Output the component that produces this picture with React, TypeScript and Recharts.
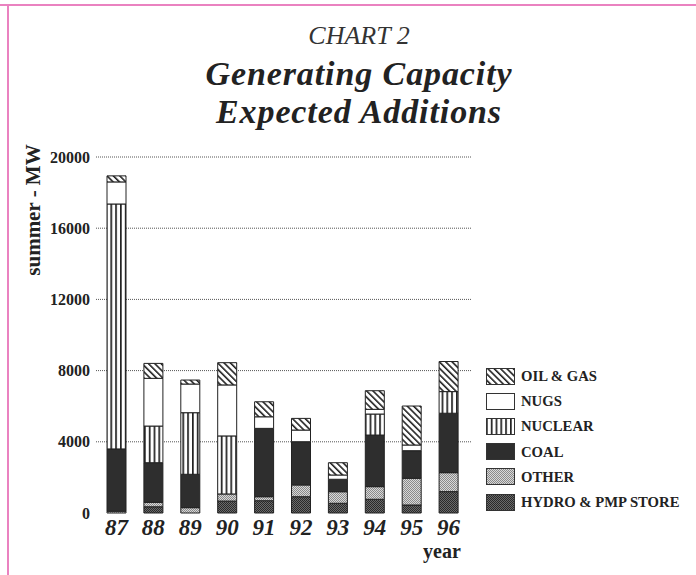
import { Bar, BarChart, CartesianGrid, XAxis, YAxis } from 'recharts'

const years = ['87', '88', '89', '90', '91', '92', '93', '94', '95', '96']
const hydro = [0, 350, 0, 670, 690, 915, 545, 770, 450, 1200]
const other = [100, 250, 300, 400, 225, 660, 650, 710, 1500, 1065]
const coal = [3500, 2225, 1875, 0, 3840, 2430, 700, 2900, 1550, 3340]
const nuclear = [13760, 2060, 3460, 3260, 0, 0, 0, 1180, 0, 1215]
const nugs = [1240, 2680, 1610, 2865, 650, 655, 240, 265, 320, 0]
const oilGas = [340, 840, 225, 1250, 845, 655, 690, 1045, 2190, 1690]
const yTicks = [0, 4000, 8000, 12000, 16000, 20000]

// bottom of the stack first
const series = [
  { key: 'hydro', name: 'HYDRO & PMP STORE', fill: 'url(#hydroFill)' },
  { key: 'other', name: 'OTHER', fill: 'url(#otherFill)' },
  { key: 'coal', name: 'COAL', fill: '#2e2e2e' },
  { key: 'nuclear', name: 'NUCLEAR', fill: 'url(#nuclearFill)' },
  { key: 'nugs', name: 'NUGS', fill: '#ffffff' },
  { key: 'oilGas', name: 'OIL & GAS', fill: 'url(#oilGasFill)' },
]

const chartData = years.map((year, i) => ({
  year,
  hydro: hydro[i],
  other: other[i],
  coal: coal[i],
  nuclear: nuclear[i],
  nugs: nugs[i],
  oilGas: oilGas[i],
}))

const serif = "'Liberation Serif', 'Times New Roman', serif"
const ink = '#222'

function Patterns() {
  return (
    <svg width={0} height={0} style={{ position: 'absolute' }}>
      <defs>
        <pattern id="oilGasFill" patternUnits="userSpaceOnUse" width={4.5} height={4.5} patternTransform="rotate(-45)">
          <rect width={4.5} height={4.5} fill="#fff" />
          <rect width={1.6} height={4.5} fill="#222" />
        </pattern>
        <pattern id="nuclearFill" patternUnits="userSpaceOnUse" width={4.8} height={4}>
          <rect width={4.8} height={4} fill="#fff" />
          <rect width={1.7} height={4} fill="#222" />
        </pattern>
        <pattern id="otherFill" patternUnits="userSpaceOnUse" width={2} height={2}>
          <rect width={2} height={2} fill="#d8d8d8" />
          <rect width={1} height={1} fill="#8a8a8a" />
          <rect x={1} y={1} width={1} height={1} fill="#8a8a8a" />
        </pattern>
        <pattern id="hydroFill" patternUnits="userSpaceOnUse" width={2} height={2}>
          <rect width={2} height={2} fill="#6a6a6a" />
          <rect width={1} height={1} fill="#2a2a2a" />
          <rect x={1} y={1} width={1} height={1} fill="#2a2a2a" />
        </pattern>
      </defs>
    </svg>
  )
}

function ChartLegend() {
  const rows = [...series].reverse()
  return (
    <div style={{ position: 'absolute', left: 486, top: 364 }}>
      {rows.map((s) => (
        <div key={s.key} style={{ display: 'flex', alignItems: 'center', height: 25.2 }}>
          <svg width={29} height={18}>
            <rect x={0.5} y={0.5} width={28} height={16} fill={s.fill} stroke="#333" />
          </svg>
          <span
            style={{
              marginLeft: 6,
              fontFamily: serif,
              fontWeight: 'bold',
              fontSize: 14.7,
              color: ink,
              whiteSpace: 'nowrap',
            }}
          >
            {s.name}
          </span>
        </div>
      ))}
    </div>
  )
}

const titleLine = {
  position: 'absolute' as const,
  left: 0,
  width: 718,
  textAlign: 'center' as const,
  fontFamily: serif,
  fontStyle: 'italic',
  color: ink,
}

export default function App() {
  return (
    <div style={{ position: 'absolute', left: 0, top: 0, width: 696, height: 575, background: '#fff', overflow: 'hidden' }}>
      <Patterns />
      <div style={{ position: 'absolute', left: 0, top: 4, width: 696, height: 2, background: '#ea82c0' }} />
      <div style={{ position: 'absolute', left: 7, top: 4, width: 2, height: 571, background: '#ea82c0' }} />

      <div style={{ ...titleLine, top: 24, fontSize: 26, lineHeight: '24px', color: '#333' }}>CHART 2</div>
      <div style={{ ...titleLine, top: 58.5, fontWeight: 'bold', fontSize: 34, letterSpacing: 0.9, lineHeight: '30px' }}>
        Generating Capacity
      </div>
      <div style={{ ...titleLine, top: 96.5, fontWeight: 'bold', fontSize: 34, letterSpacing: 0.9, lineHeight: '30px' }}>
        Expected Additions
      </div>

      <div
        style={{
          position: 'absolute',
          left: 33 - 100,
          top: 210 - 12,
          width: 200,
          height: 24,
          lineHeight: '24px',
          textAlign: 'center',
          transform: 'rotate(-90deg)',
          fontFamily: serif,
          fontWeight: 'bold',
          fontSize: 21,
          color: ink,
        }}
      >
        summer - MW
      </div>

      <div style={{ position: 'absolute', left: 442 - 40, width: 80, top: 541, textAlign: 'center', fontFamily: serif, fontWeight: 'bold', fontSize: 20, lineHeight: '20px', color: ink }}>
        year
      </div>

      <div style={{ position: 'absolute', left: 0, top: 0 }}>
        <BarChart
          width={696}
          height={575}
          data={chartData}
          barSize={19}
          margin={{ top: 157, right: 224, bottom: 22, left: 0 }}
        >
          <CartesianGrid
            vertical={false}
            horizontalValues={[4000, 8000, 12000, 16000, 20000]}
            stroke="#555"
            strokeDasharray="1 1"
          />
          <XAxis
            dataKey="year"
            height={40}
            padding={{ left: 2, right: 5 }}
            axisLine={false}
            tickLine={false}
            tickSize={4}
            tickMargin={2}
            tick={{ fontFamily: serif, fontSize: 23, fontWeight: 'bold', fontStyle: 'italic', fill: ink }}
          />
          <YAxis
            width={96}
            domain={[0, 20000]}
            ticks={yTicks}
            interval={0}
            axisLine={false}
            tickLine={false}
            tickSize={4}
            tickMargin={2}
            tick={{ fontFamily: serif, fontSize: 16, fontWeight: 'bold', fill: ink }}
          />
          {series.map((s) => (
            <Bar
              key={s.key}
              dataKey={s.key}
              name={s.name}
              stackId="cap"
              fill={s.fill}
              stroke="#222"
              strokeWidth={1}
              isAnimationActive={false}
            />
          ))}
        </BarChart>
      </div>
      <ChartLegend />
    </div>
  )
}
